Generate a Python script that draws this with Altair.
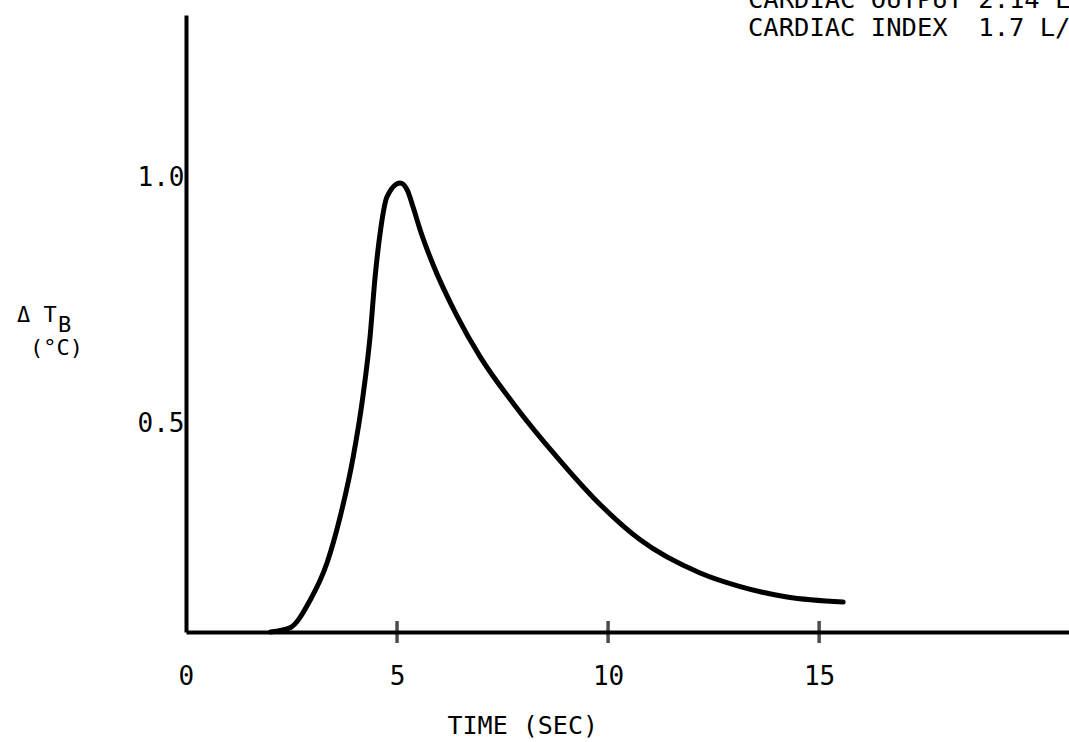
import altair as alt
import pandas as pd

# Curve: time (s) vs delta T_B (deg C)
time_s = [2.0, 2.46, 2.94, 3.34, 3.65, 3.96, 4.19, 4.36, 4.48, 4.60, 4.76, 5.07,
          5.24, 5.38, 5.55, 5.85, 6.41, 6.97, 7.75, 8.79, 9.64, 10.76,
          12.18, 13.13, 14.24, 15.57]
delta_t = [0.0, 0.009, 0.070, 0.152, 0.253, 0.385, 0.518, 0.650, 0.782, 0.879,
           0.958, 0.989, 0.974, 0.936, 0.885, 0.810, 0.698, 0.606, 0.504,
           0.385, 0.297, 0.203, 0.130, 0.100, 0.077, 0.066]

x_tick_values = [5, 10, 15]
x_label_values = [0, 5, 10, 15]
y_label_values = [0.5, 1.0]

NB = "\u00a0"
info_lines = ["CARDIAC OUTPUT 2.14 L/MIN".replace(" ", NB),
              "CARDIAC INDEX  1.7 L/MIN/M2".replace(" ", NB)]
x_title = "TIME (SEC)"
y_title_main = "\u0394" + NB + "T"
y_title_sub = "B"
y_title_unit = "(\u00b0C)"

FONT = "DejaVu Sans Mono"
X_MAX = 20.92
Y_MAX = 1.359

curve = pd.DataFrame({"t": time_s, "v": delta_t})

xscale = alt.Scale(domain=[0, X_MAX], nice=False, zero=False)
yscale = alt.Scale(domain=[0, Y_MAX], nice=False, zero=False)

line = alt.Chart(curve).mark_line(
    color="black", strokeWidth=5, strokeCap="round", strokeJoin="round",
    interpolate="monotone"
).encode(
    x=alt.X("t:Q", scale=xscale, axis=alt.Axis(
        values=x_label_values, title=x_title, grid=False, ticks=False, tickSize=0,
        domainColor="black", domainWidth=4,
        labelFont=FONT, labelFontSize=26, labelColor="black",
        labelBaseline="middle", labelPadding=44,
        labelOffset=alt.condition("datum.value == 0", alt.value(-8), alt.value(0)),
        titleFont=FONT, titleFontSize=25, titleFontWeight="normal", titleColor="black",
        titleAlign="left", titleBaseline="middle", titleX=261, titleY=93,
    )),
    y=alt.Y("v:Q", scale=yscale, axis=alt.Axis(
        values=y_label_values, title=None, grid=False, ticks=False, tickSize=0,
        domainColor="black", domainWidth=4,
        labelFont=FONT, labelFontSize=26, labelColor="black",
        labelBaseline="middle", labelPadding=2,
        labelOffset=alt.condition("datum.value == 0.5", alt.value(19), alt.value(0)),
        format=".1f",
    )),
)

ticks = alt.Chart(pd.DataFrame({"t": x_tick_values})).mark_tick(
    orient="vertical", size=22, thickness=3.5, color="black"
).encode(
    x=alt.X("t:Q", scale=xscale),
    y=alt.Y(datum=0, scale=yscale),
)

def label(text, px, py, size, align="left"):
    return alt.Chart(pd.DataFrame({"s": [text]})).mark_text(
        font=FONT, fontSize=size, color="black", align=align, baseline="middle"
    ).encode(x=alt.value(px), y=alt.value(py), text="s:N")

# positions are relative to the plot area's top-left (186, 15)
texts = [
    label(info_lines[0], 562, -15, 25.5),
    label(info_lines[1], 562, 13, 25.5),
    label(y_title_main, -169, 300, 22),
    label(y_title_sub, -128, 310, 22),
    label(y_title_unit, -156, 333, 22),
]

chart = alt.layer(line, ticks, *texts).properties(
    width=883, height=617,
    autosize=alt.AutoSizeParams(type="none"),
    padding={"left": 186, "top": 15, "right": 0, "bottom": 110},
    background="white",
).configure_view(stroke=None)

chart.save("out.html", embed_options={"renderer": "svg", "actions": False})
